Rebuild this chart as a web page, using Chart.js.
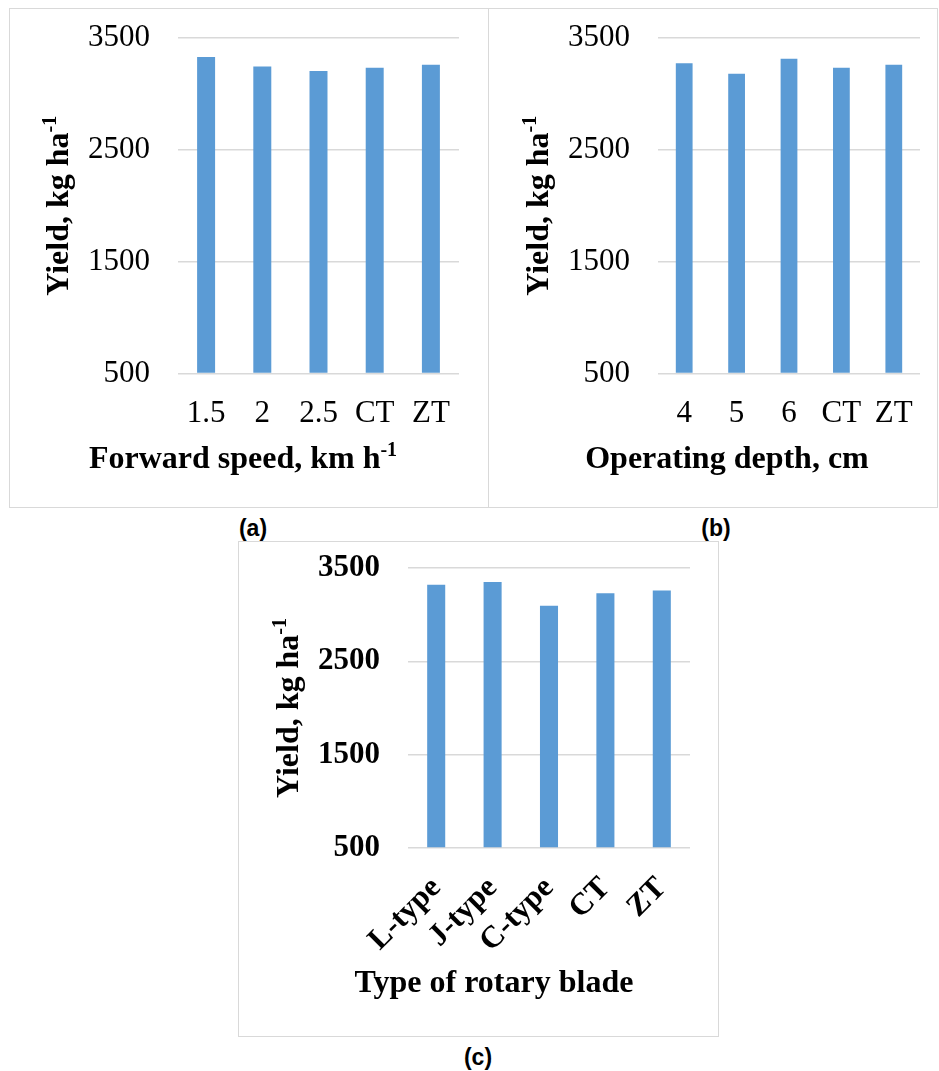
<!DOCTYPE html>
<html><head><meta charset="utf-8">
<script src="https://cdn.jsdelivr.net/npm/chart.js@4.4.0/dist/chart.umd.min.js"></script>
<style>
body{margin:0;background:#fff;width:939px;height:1071px;position:relative;overflow:hidden}
.box{position:absolute;border:1.5px solid #d9d9d9;box-sizing:border-box}
canvas{position:absolute}
.lab{position:absolute;font:bold 23px "Liberation Sans",Arial,sans-serif;color:#000;transform:translate(-50%,-50%);line-height:1}
</style></head><body>
<div class="box" style="left:9px;top:8px;width:480px;height:500px"></div>
<div class="box" style="left:488px;top:8px;width:450px;height:500px"></div>
<div class="box" style="left:238px;top:541px;width:481px;height:496px"></div>
<canvas id="ca" width="480" height="500" style="left:9px;top:8px"></canvas>
<canvas id="cb" width="450" height="500" style="left:488px;top:8px"></canvas>
<canvas id="cc" width="481" height="496" style="left:238px;top:541px"></canvas>
<div class="lab" style="left:253px;top:528px">(a)</div>
<div class="lab" style="left:716px;top:528px">(b)</div>
<div class="lab" style="left:478px;top:1057px">(c)</div>
<script>
// ---- data ----
const speedLabels = ['1.5', '2', '2.5', 'CT', 'ZT'];
const speedYield = [3330, 3245, 3205, 3235, 3260];
const depthLabels = ['4', '5', '6', 'CT', 'ZT'];
const depthYield = [3275, 3180, 3315, 3235, 3260];
const bladeLabels = ['L-type', 'J-type', 'C-type', 'CT', 'ZT'];
const bladeYield = [3320, 3350, 3095, 3230, 3260];
const yMin = 500, yMax = 3500, yStep = 1000;
const yTitle = ['Yield, kg ha', '-1'];
const xTitleA = ['Forward speed, km h', '-1'];
const xTitleB = ['Operating depth, cm', ''];
const xTitleC = ['Type of rotary blade', ''];

const SERIF = '"Liberation Serif","Times New Roman",serif';
const BAR = '#5b9bd5';
const GRID = '#d9d9d9';

function drawSupText(ctx, parts, size, cx, cy, rot) {
  ctx.save();
  ctx.fillStyle = '#000';
  ctx.translate(cx, cy);
  if (rot) ctx.rotate(-Math.PI / 2);
  ctx.font = 'bold ' + size + 'px ' + SERIF;
  const w1 = ctx.measureText(parts[0]).width;
  const ss = Math.round(size * 0.64);
  ctx.font = 'bold ' + ss + 'px ' + SERIF;
  const w2 = parts[1] ? ctx.measureText(parts[1]).width : 0;
  const x0 = -(w1 + w2) / 2;
  ctx.textBaseline = 'alphabetic';
  ctx.textAlign = 'left';
  ctx.font = 'bold ' + size + 'px ' + SERIF;
  ctx.fillText(parts[0], x0, 0);
  if (parts[1]) {
    ctx.font = 'bold ' + ss + 'px ' + SERIF;
    ctx.fillText(parts[1], x0 + w1, -size * 0.38);
  }
  ctx.restore();
}

function make(id, labels, values, o) {
  const cv = document.getElementById(id);
  const W = cv.width, H = cv.height;
  const titlePlugin = {
    id: 'titles',
    afterDraw(chart) {
      const ctx = chart.ctx;
      const ca = chart.chartArea;
      drawSupText(ctx, yTitle, o.titleSize, o.yTitleX, (ca.top + ca.bottom) / 2, true);
      drawSupText(ctx, o.xTitle, o.titleSize, o.xTitleX, o.xTitleY, false);
    }
  };
  new Chart(cv, {
    type: 'bar',
    data: { labels: labels, datasets: [{ data: values, backgroundColor: BAR, base: yMin,
      barPercentage: 0.32, categoryPercentage: 1 }] },
    options: {
      responsive: false, animation: false,
      layout: { padding: { left: 0, top: o.top, right: W - o.right, bottom: 0 } },
      plugins: { legend: { display: false }, tooltip: { enabled: false } },
      scales: {
        x: {
          grid: { display: false, drawTicks: false },
          border: { display: false },
          ticks: { color: '#000', font: { family: SERIF, size: o.tickSize, weight: o.tickWeight },
            padding: o.xPad, autoSkip: false, minRotation: o.rot, maxRotation: o.rot },
          afterFit(s) { s.height = H - o.bottom; s.paddingLeft = 0; s.paddingRight = 0; }
        },
        y: {
          min: yMin, max: yMax,
          grid: { color: GRID, lineWidth: 1.5, drawTicks: false },
          border: { display: false },
          ticks: { stepSize: yStep, color: '#000', padding: 28,
            callback: (v) => String(v),
            font: { family: SERIF, size: o.tickSize, weight: o.tickWeight } },
          afterFit(s) { s.width = o.left; s.paddingTop = 0; s.paddingBottom = 0; }
        }
      }
    },
    plugins: [titlePlugin]
  });
}

make('ca', speedLabels, speedYield, { left: 169, right: 450, top: 30, bottom: 365.5,
  tickSize: 31, tickWeight: 'normal', titleSize: 32, rot: 0, xPad: 22,
  yTitleX: 59, xTitle: xTitleA, xTitleX: 234, xTitleY: 460 });
make('cb', depthLabels, depthYield, { left: 170, right: 432, top: 30, bottom: 365.5,
  tickSize: 31, tickWeight: 'normal', titleSize: 32, rot: 0, xPad: 22,
  yTitleX: 60, xTitle: xTitleB, xTitleX: 239, xTitleY: 460 });
make('cc', bladeLabels, bladeYield, { left: 170, right: 452, top: 27, bottom: 307,
  tickSize: 31, tickWeight: 'bold', titleSize: 32, rot: 45, xPad: 22,
  yTitleX: 60, xTitle: xTitleC, xTitleX: 256, xTitleY: 451 });
</script>
</body></html>
